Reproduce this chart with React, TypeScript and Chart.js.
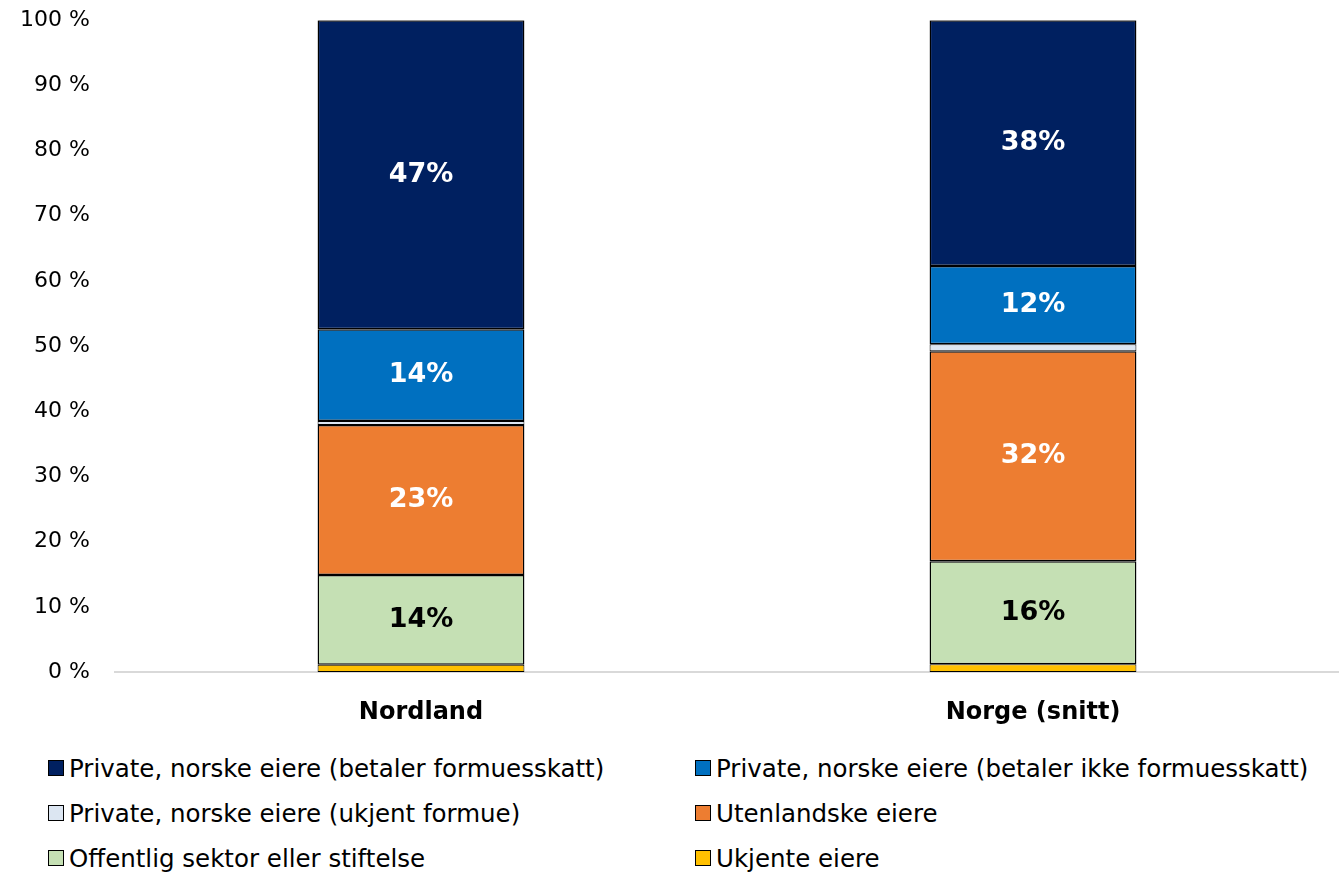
import React, { useEffect, useRef } from "react";
import { Chart, registerables } from "chart.js";

Chart.register(...registerables);

const categories = ["Nordland", "Norge (snitt)"];
const seriesNames = [
  "Ukjente eiere",
  "Offentlig sektor eller stiftelse",
  "Utenlandske eiere",
  "Private, norske eiere (ukjent formue)",
  "Private, norske eiere (betaler ikke formuesskatt)",
  "Private, norske eiere (betaler formuesskatt)",
];
const ukjenteEiere = [1.1, 1.2];
const offentlig = [13.8, 15.8];
const utenlandske = [23.0, 32.2];
const ukjentFormue = [0.6, 1.1];
const ikkeFormuesskatt = [14.1, 12.0];
const formuesskatt = [47.4, 37.7];
const seriesColors = ["#FFC000", "#C5E0B4", "#ED7D31", "#DCE6F2", "#0070C0", "#002060"];
const labelColors = ["#000", "#000", "#fff", "#000", "#fff", "#fff"];
const showLabel = [false, true, true, false, true, true];
const yTicks = [0, 10, 20, 30, 40, 50, 60, 70, 80, 90, 100];

const legendOrder = [5, 4, 3, 2, 1, 0];

const FONT = "'DejaVu Sans', sans-serif";
const SHIFT = 18;

const labelPlugin = {
  id: "segLabels",
  afterDatasetsDraw(chart: any) {
    const ctx = chart.ctx;
    chart.data.datasets.forEach((ds: any, i: number) => {
      if (!showLabel[i]) return;
      const meta = chart.getDatasetMeta(i);
      meta.data.forEach((bar: any, j: number) => {
        const v = ds.data[j];
        const y = (bar.y + bar.base) / 2;
        ctx.save();
        ctx.fillStyle = labelColors[i];
        ctx.font = `bold 27px ${FONT}`;
        ctx.textAlign = "center";
        ctx.textBaseline = "middle";
        ctx.fillText(`${Math.round(v)}%`, bar.x, y);
        ctx.restore();
      });
    });
  },
};

export default function App() {
  const ref = useRef<HTMLCanvasElement>(null);
  useEffect(() => {
    const values = [ukjenteEiere, offentlig, utenlandske, ukjentFormue, ikkeFormuesskatt, formuesskatt];
    const chart = new Chart(ref.current!, {
      type: "bar",
      data: {
        labels: categories,
        datasets: values.map((d, i) => ({
          label: seriesNames[i],
          data: d,
          backgroundColor: seriesColors[i],
          borderColor: "#000",
          borderWidth: i === 3 || i === 0 ? 1 : 1.5,
          borderSkipped: false,
          barPercentage: 0.338,
          categoryPercentage: 1,
        })),
      },
      options: {
        animation: false,
        responsive: false,
        layout: { padding: { top: 8, right: 0, left: 0, bottom: 0 } },
        plugins: { legend: { display: false }, tooltip: { enabled: false } },
        scales: {
          x: {
            stacked: true,
            grid: { display: false, drawTicks: false },
            border: { display: true, color: "#d9d9d9", width: 2 },
            ticks: { color: "#000", font: { family: FONT, size: 24, weight: "bold" }, padding: 26 },
            afterFit: (s: any) => { s.height = 68; },
          },
          y: {
            stacked: true,
            min: 0,
            max: 100,
            grid: { display: false, drawTicks: false },
            border: { display: false },
            afterBuildTicks: (s: any) => { s.ticks = yTicks.map((v) => ({ value: v })); },
            ticks: {
              color: "#000",
              font: { family: FONT, size: 22 },
              padding: 25,
              callback: (v: any) => `${v} %`,
            },
            afterFit: (s: any) => { s.width = 115; },
          },
        },
      },
      plugins: [labelPlugin],
    });
    return () => chart.destroy();
  }, []);

  return (
    <div style={{ position: "absolute", left: 0, top: 0, width: 1339, height: 872, background: "#fff", fontFamily: FONT, overflow: "hidden" }}>
      <canvas ref={ref} width={1339} height={740 + SHIFT} style={{ display: "block", marginTop: -SHIFT }} />
      {legendOrder.map((si, k) => {
        const col = k % 2;
        const row = Math.floor(k / 2);
        return (
          <div
            key={si}
            style={{
              position: "absolute",
              left: col === 0 ? 48 : 695,
              top: 752 + row * 45,
              height: 32,
              display: "flex",
              alignItems: "center",
              fontSize: 24.5,
              color: "#000",
              whiteSpace: "nowrap",
            }}
          >
            <span
              style={{
                display: "inline-block",
                width: 14,
                height: 14,
                background: seriesColors[si],
                border: "1.5px solid #000",
                marginRight: 5,
              }}
            />
            {seriesNames[si]}
          </div>
        );
      })}
    </div>
  );
}
